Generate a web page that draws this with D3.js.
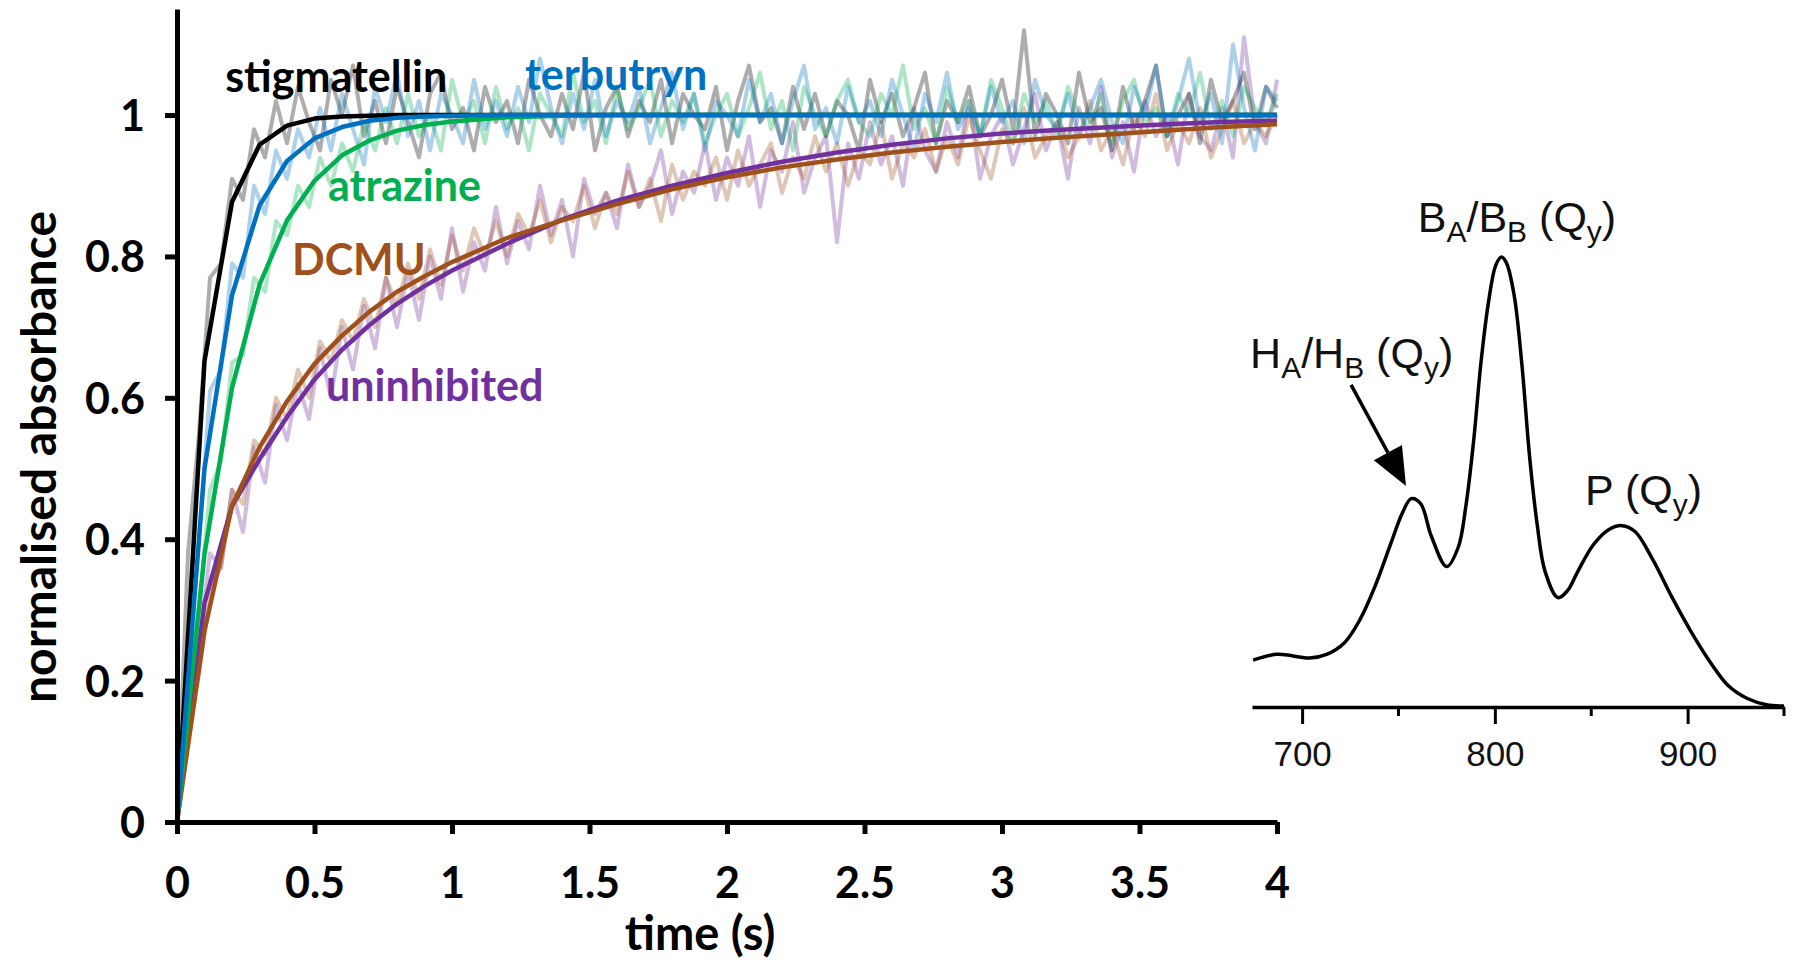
<!DOCTYPE html>
<html>
<head>
<meta charset="utf-8">
<script src="https://cdn.jsdelivr.net/npm/d3@7"></script>
<style>
body { margin: 0; background: #fff; }
.main text { font-family: Lato, "Open Sans", sans-serif; font-weight: 700; fill: #000; }
.inset text { font-family: "Liberation Sans", Arial, sans-serif; fill: #111; }
</style>
</head>
<body>
<svg id="chart" width="1793" height="964"></svg>
<script>
// ---- kinetics: fitted curves ----
const fitTime = [0, 0.1, 0.2, 0.3, 0.4, 0.5, 0.6, 0.7, 0.8, 0.9, 1.0, 1.2, 1.4, 1.6, 1.8, 2.0, 2.2, 2.4, 2.6, 2.8, 3.0, 3.2, 3.4, 3.6, 3.8, 4.0];
const stigFit = [0, 0.652, 0.877, 0.958, 0.985, 0.995, 0.998, 0.999, 1, 1, 1, 1, 1, 1, 1, 1, 1, 1, 1, 1, 1, 1, 1, 1, 1, 1];
const terbFit = [0, 0.50, 0.745, 0.872, 0.935, 0.967, 0.983, 0.992, 0.996, 0.998, 0.999, 1, 1, 1, 1, 1, 1, 1, 1, 1, 1, 1, 1, 1, 1, 1];
const atraFit = [0, 0.379, 0.614, 0.76, 0.851, 0.907, 0.943, 0.964, 0.978, 0.986, 0.991, 0.997, 0.999, 1, 1, 1, 1, 1, 1, 1, 1, 1, 1, 1, 1, 1];
const dcmuFit = [0, 0.27, 0.447, 0.53, 0.595, 0.648, 0.688, 0.722, 0.75, 0.772, 0.792, 0.826, 0.851, 0.874, 0.895, 0.912, 0.926, 0.937, 0.947, 0.955, 0.962, 0.968, 0.973, 0.978, 0.983, 0.987];
const uninFit = [0, 0.31, 0.447, 0.513, 0.573, 0.626, 0.668, 0.703, 0.733, 0.758, 0.78, 0.818, 0.852, 0.879, 0.9, 0.918, 0.934, 0.947, 0.958, 0.967, 0.974, 0.979, 0.983, 0.987, 0.99, 0.992];

// ---- kinetics: raw traces, one reading every 0.04 s ----
const rawStep = 0.04;
const stigRaw = [
  0, 0.38, 0.55, 0.77, 0.79, 0.91, 0.88, 0.98, 0.94, 1.02,
  0.96, 1.04, 0.99, 0.95, 1.05, 1.0, 1.07, 0.97, 1.02, 0.96,
  1.04, 0.99, 0.94, 1.03, 1.06, 0.98, 1.01, 0.95, 1.04, 0.99,
  1.02, 0.96, 1.05, 1.0, 0.97, 1.03, 0.98, 1.06, 0.95, 1.01,
  1.04, 0.97, 1.02, 0.99, 1.05, 0.96, 1.03, 1.0, 0.98, 1.04,
  0.95, 1.02, 1.07, 0.99, 1.01, 0.96, 1.04, 0.98, 1.03, 0.97,
  1.02, 1.0, 0.95, 1.05, 0.99, 1.03, 0.97, 1.01, 1.06, 0.96,
  1.02, 0.99, 1.04, 0.97, 1.0, 1.05, 0.98, 1.12, 0.97, 1.03,
  1.0, 0.96, 1.06, 0.99, 1.01, 0.95, 1.04, 0.98, 1.02, 1.07,
  0.97, 1.0, 1.03, 0.96, 1.05, 0.99, 1.02, 1.06, 0.98, 1.04,
  1.01];
const terbRaw = [
  0, 0.27, 0.4, 0.61, 0.64, 0.79, 0.77, 0.9, 0.86, 0.95,
  0.91, 0.98, 0.94, 1.01, 0.95, 1.03, 0.98, 0.93, 1.04, 0.99,
  1.06, 0.97, 1.02, 0.95, 1.03, 1.0, 0.96, 1.05, 0.98, 1.02,
  0.97, 1.04, 0.99, 1.08, 1.01, 0.96, 1.03, 0.98, 1.05, 0.97,
  1.02, 0.99, 1.04, 0.96, 1.01, 1.06, 0.98, 1.03, 0.95, 1.02,
  1.0, 0.97, 1.05, 0.99, 1.03, 0.96, 1.02, 1.07, 0.98, 1.01,
  0.96, 1.04, 0.99, 1.02, 0.97, 1.05, 1.0, 0.95, 1.03, 0.99,
  1.06, 0.98, 1.01, 0.97, 1.04, 0.99, 1.02, 0.96, 1.05, 1.0,
  0.98, 1.03, 0.97, 1.01, 1.05, 0.99, 0.96, 1.04, 1.0, 1.07,
  0.97, 1.02, 1.08, 0.99, 1.03, 0.96, 1.1, 1.01, 0.95, 1.04,
  1.02];
const atraRaw = [
  0, 0.2, 0.3, 0.47, 0.51, 0.65, 0.66, 0.77, 0.75, 0.85,
  0.83, 0.9, 0.87, 0.94, 0.9, 0.96, 0.92, 0.99, 0.95, 1.01,
  0.96, 1.03, 0.97, 1.0, 0.95, 1.05, 0.99, 1.02, 0.96, 1.04,
  0.98, 1.01, 0.95, 1.03, 1.0, 0.97, 1.06, 0.99, 1.02, 0.96,
  1.04, 0.98, 1.01, 1.05, 0.97, 1.02, 0.99, 1.03, 0.96, 1.0,
  1.03, 0.97, 1.01, 1.06, 0.98, 1.02, 0.95, 1.04, 1.0, 0.97,
  1.02, 1.05, 0.99, 0.97, 1.03, 1.0, 1.07, 0.98, 1.01, 0.96,
  1.04, 0.99, 1.02, 0.97, 1.05, 1.01, 0.96, 1.03, 0.99, 1.02,
  0.97, 1.04, 1.0, 0.98, 1.03, 0.96, 1.02, 1.05, 0.99, 1.01,
  0.97, 1.03, 1.0, 1.06, 0.98, 1.02, 0.97, 1.04, 1.01, 0.99,
  1.03];
const dcmuRaw = [
  0, 0.14, 0.21, 0.33, 0.36, 0.47, 0.45, 0.54, 0.52, 0.6,
  0.57, 0.64, 0.6, 0.68, 0.65, 0.71, 0.68, 0.74, 0.7, 0.77,
  0.73, 0.79, 0.74, 0.81, 0.76, 0.83, 0.78, 0.84, 0.8, 0.85,
  0.8, 0.86, 0.83, 0.88, 0.82, 0.87, 0.85, 0.9, 0.84, 0.89,
  0.86, 0.92, 0.87, 0.91, 0.85, 0.93, 0.88, 0.92, 0.9, 0.94,
  0.88, 0.95, 0.9, 0.93, 0.96, 0.89, 0.94, 0.91, 0.97, 0.92,
  0.96, 0.9, 0.95, 0.93, 0.99, 0.91, 0.96, 0.94, 0.98, 0.92,
  0.97, 0.93, 1.0, 0.95, 0.91, 0.98, 0.96, 1.01, 0.94, 0.97,
  0.99, 0.94, 0.97, 1.02, 0.95, 0.98, 0.93, 1.0, 0.97, 1.03,
  0.95, 0.99, 0.96, 1.01, 0.94, 0.98, 1.02, 0.96, 0.99, 0.97,
  1.0];
const uninRaw = [
  0, 0.17, 0.25, 0.38, 0.36, 0.47, 0.41, 0.53, 0.48, 0.59,
  0.54, 0.62, 0.57, 0.67, 0.6, 0.7, 0.64, 0.73, 0.67, 0.77,
  0.7, 0.78, 0.71, 0.8, 0.74, 0.84, 0.75, 0.82, 0.78, 0.87,
  0.79, 0.85, 0.81, 0.9, 0.83, 0.88, 0.8, 0.91, 0.86, 0.89,
  0.84, 0.93, 0.87, 0.9, 0.95, 0.86, 0.92, 0.89, 0.96, 0.88,
  0.94, 0.9, 0.97, 0.87, 0.95, 0.92, 0.99, 0.89, 0.94, 0.97,
  0.82, 0.96, 0.91, 0.99, 0.93, 0.97, 0.9, 1.01, 0.95, 0.92,
  0.99, 0.94, 1.02, 0.91, 0.97, 1.0, 0.93, 0.98, 1.03, 0.95,
  0.99, 0.91, 1.01, 0.96, 1.04, 0.94, 0.99, 0.92, 1.02, 0.97,
  1.0, 0.93, 1.03, 0.97, 0.95, 1.01, 0.94, 1.11, 0.99, 0.96,
  1.05];

const seriesNames = ["uninhibited", "DCMU", "stigmatellin", "atrazine", "terbutryn"];
const seriesColors = ["#7030A0", "#A0501A", "#000000", "#00B050", "#0070C0"];
const seriesFits = [uninFit, dcmuFit, stigFit, atraFit, terbFit];
const seriesRaw = [uninRaw, dcmuRaw, stigRaw, atraRaw, terbRaw];
// where each name sits, in data units (time, absorbance)
const labelSpots = {
  stigmatellin: [0.175, 1.032],
  terbutryn: [1.265, 1.035],
  atrazine: [0.549, 0.878],
  DCMU: [0.418, 0.774],
  uninhibited: [0.542, 0.596]
};

const xTicks = [0, 0.5, 1, 1.5, 2, 2.5, 3, 3.5, 4];
const yTicks = [0, 0.2, 0.4, 0.6, 0.8, 1];

// ---- inset: absorbance spectrum ----
const specNm = [674.6, 687, 704, 712.7, 722, 730, 738, 746, 752, 756.6, 761.5, 767, 775, 781, 785, 789, 792.7, 796.6, 800.5, 803.4, 806, 810, 814, 818, 822, 826, 832.7, 837.6, 843, 851, 859, 866, 872.7, 882, 892, 902, 912, 921, 931, 941, 950];
const specAbs = [0.104, 0.117, 0.109, 0.117, 0.143, 0.194, 0.27, 0.363, 0.431, 0.463, 0.452, 0.38, 0.312, 0.355, 0.448, 0.592, 0.762, 0.897, 0.982, 1.0, 0.987, 0.915, 0.762, 0.557, 0.404, 0.302, 0.243, 0.258, 0.301, 0.36, 0.394, 0.403, 0.39, 0.327, 0.243, 0.166, 0.098, 0.048, 0.019, 0.005, 0.002];
const specMajor = [700, 800, 900];
const specMinor = [750, 850, 950];

const svg = d3.select("#chart");
const fmt = d => String(+d.toFixed(1));

// ================= main kinetics plot =================
const main = svg.append("g").attr("class", "main");
const x = d3.scaleLinear().domain([0, 4]).range([177, 1277]);
const y = d3.scaleLinear().domain([0, 1.15]).range([822, 9]);

const line = d3.line().x(d => x(d[0])).y(d => y(d[1]));

// raw traces first, faint
seriesRaw.forEach((arr, k) => {
  main.append("path")
    .datum(arr.map((v, i) => [i * rawStep, v]))
    .attr("d", line)
    .attr("fill", "none")
    .attr("stroke", seriesColors[k])
    .attr("stroke-opacity", 0.32)
    .attr("stroke-width", 4)
    .attr("stroke-linejoin", "round");
});

// fitted curves on top
seriesFits.forEach((arr, k) => {
  main.append("path")
    .datum(arr.map((v, i) => [fitTime[i], v]))
    .attr("d", line)
    .attr("fill", "none")
    .attr("stroke", seriesColors[k])
    .attr("stroke-width", 4.5)
    .attr("stroke-linejoin", "round");
});

// axes
const xAxis = main.append("g")
  .attr("transform", "translate(0," + y(0) + ")")
  .call(d3.axisBottom(x).tickValues(xTicks).tickFormat(fmt).tickSize(12).tickSizeOuter(0).tickPadding(33));
const yAxis = main.append("g")
  .attr("transform", "translate(" + x(0) + ",0)")
  .call(d3.axisLeft(y).tickValues(yTicks).tickFormat(fmt).tickSize(12).tickSizeOuter(0).tickPadding(20));
[xAxis, yAxis].forEach(a => {
  a.select(".domain").attr("stroke", "#000").attr("stroke-width", 5);
  a.selectAll(".tick line").attr("stroke", "#000").attr("stroke-width", 5);
  a.selectAll(".tick text").style("font-size", "43px").style("font-family", "Lato, sans-serif").style("font-weight", 700).attr("fill", "#000");
});
yAxis.selectAll(".tick text").attr("dy", "0.36em");

main.append("text")
  .attr("x", 700).attr("y", 950)
  .attr("text-anchor", "middle")
  .style("font-size", "47px")
  .text("time (s)");

main.append("text")
  .attr("transform", "translate(56,457) rotate(-90)")
  .attr("text-anchor", "middle")
  .style("font-size", "48px")
  .text("normalised absorbance");

// series names
seriesNames.forEach((name, k) => {
  const p = labelSpots[name];
  main.append("text")
    .attr("x", x(p[0])).attr("y", y(p[1]))
    .style("font-size", "43px")
    .style("fill", seriesColors[k])
    .text(name);
});

// ================= inset spectrum =================
const inset = svg.append("g").attr("class", "inset");
const sx = d3.scaleLinear().domain([674, 950]).range([1252, 1784]);
const sy = d3.scaleLinear().domain([0, 1]).range([707, 257]);

inset.append("path")
  .datum(specNm.map((n, i) => [n, specAbs[i]]))
  .attr("d", d3.line().x(d => sx(d[0])).y(d => sy(d[1])).curve(d3.curveCatmullRom.alpha(0.5)))
  .attr("fill", "none")
  .attr("stroke", "#000")
  .attr("stroke-width", 3.5);

const sAxis = inset.append("g")
  .attr("transform", "translate(0," + sy(0) + ")")
  .call(d3.axisBottom(sx).tickValues(specMajor).tickFormat(d3.format("d")).tickSize(17).tickSizeOuter(0).tickPadding(17));
sAxis.select(".domain").attr("stroke", "#000").attr("stroke-width", 3.5);
sAxis.selectAll(".tick line").attr("stroke", "#000").attr("stroke-width", 3);
sAxis.selectAll(".tick text").style("font-size", "35px").style("font-family", "'Liberation Sans', Arial, sans-serif").attr("fill", "#111");

inset.selectAll(".minor")
  .data(specMinor)
  .enter().append("line")
  .attr("x1", d => sx(d)).attr("x2", d => sx(d))
  .attr("y1", sy(0)).attr("y2", sy(0) + 9)
  .attr("stroke", "#000").attr("stroke-width", 3);

// labels with subscripts
function subLabel(nm, ab, parts) {
  const t = inset.append("text")
    .attr("x", sx(nm)).attr("y", sy(ab))
    .style("font-size", "43px");
  let down = false;
  parts.forEach(p => {
    const isSub = p[1];
    const ts = t.append("tspan").text(p[0]);
    if (isSub) ts.style("font-size", "30px");
    if (isSub && !down) { ts.attr("dy", 10); down = true; }
    else if (!isSub && down) { ts.attr("dy", -10); down = false; }
  });
}
subLabel(760, 1.056, [["B", 0], ["A", 1], ["/B", 0], ["B", 1], [" (Q", 0], ["y", 1], [")", 0]]);
subLabel(673, 0.753, [["H", 0], ["A", 1], ["/H", 0], ["B", 1], [" (Q", 0], ["y", 1], [")", 0]]);
subLabel(846.8, 0.449, [["P (Q", 0], ["y", 1], [")", 0]]);

// arrow to the H peak
const arrowFrom = [725.4, 0.716], arrowTo = [753.9, 0.491];
const ax0 = sx(arrowFrom[0]), ay0 = sy(arrowFrom[1]);
const ax1 = sx(arrowTo[0]), ay1 = sy(arrowTo[1]);
const ang = Math.atan2(ay1 - ay0, ax1 - ax0);
const headLen = 38, headHalf = 16;
const bx = ax1 - headLen * Math.cos(ang), by = ay1 - headLen * Math.sin(ang);
inset.append("line")
  .attr("x1", ax0).attr("y1", ay0).attr("x2", bx).attr("y2", by)
  .attr("stroke", "#000").attr("stroke-width", 3.5);
inset.append("path")
  .attr("d", d3.line()([
    [ax1, ay1],
    [bx + headHalf * Math.sin(ang), by - headHalf * Math.cos(ang)],
    [bx - headHalf * Math.sin(ang), by + headHalf * Math.cos(ang)]
  ]) + "Z")
  .attr("fill", "#000");
</script>
</body>
</html>
